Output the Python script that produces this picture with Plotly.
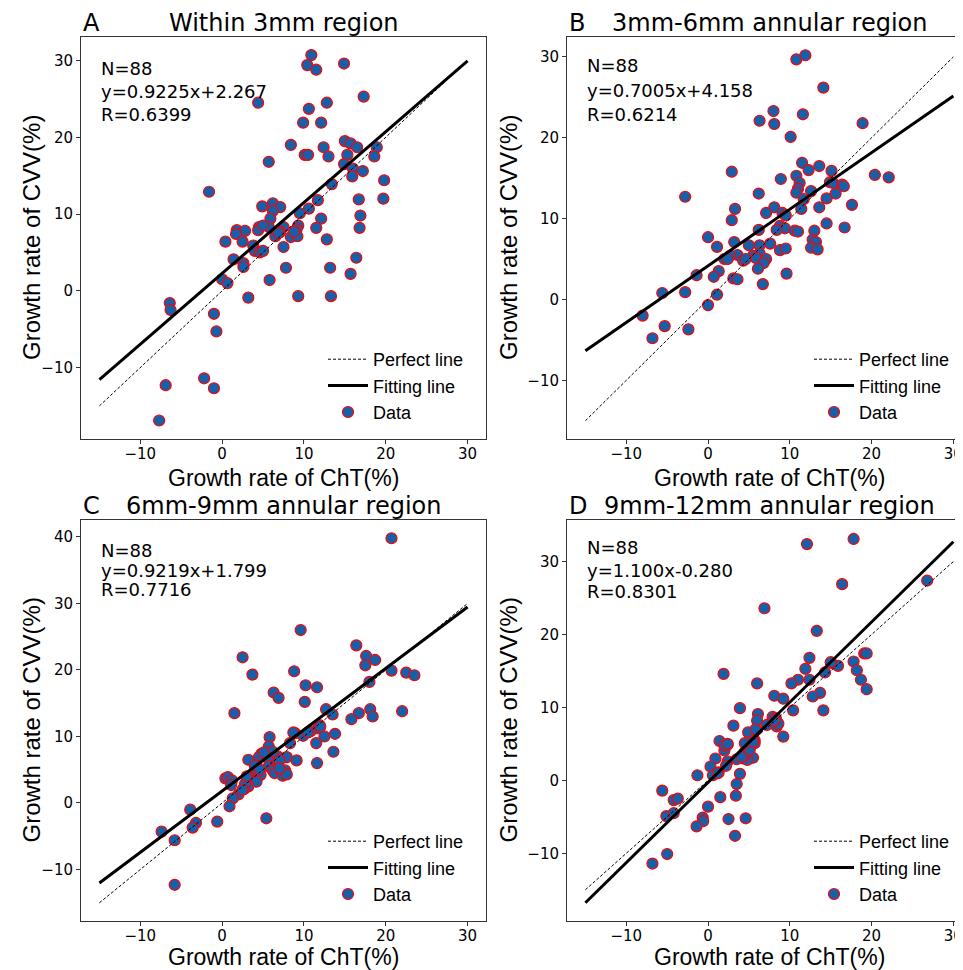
import plotly.graph_objects as go

# ---------------- data ----------------
panel_letters = ["A", "B", "C", "D"]
panel_titles = ["Within 3mm region", "3mm-6mm annular region",
                "6mm-9mm annular region", "9mm-12mm annular region"]
n_points = [88, 88, 88, 88]
slopes = [0.9225, 0.7005, 0.9219, 1.100]
intercepts = [2.267, 4.158, 1.799, -0.280]
r_values = ["0.6399", "0.6214", "0.7716", "0.8301"]
fit_labels = ["y=0.9225x+2.267", "y=0.7005x+4.158", "y=0.9219x+1.799", "y=1.100x-0.280"]
line_x = [-15, 30]

a_x = [10.9, 10.4, 11.5, 14.9, 17.3, 4.4, 10.6, 12.8, 9.9, 12.1,
       8.4, 12.4, 15.0, 15.7, 16.5, 18.9, 10.1, 10.5, 13.0, 15.3,
       18.6, 5.7, 14.9, 16.0, 17.2, 15.9, 19.8, 13.4, -1.6, 11.7,
       16.7, 19.7, 6.2, 7.1, 4.9, 10.6, 6.2, 9.5, 16.9, 5.9,
       12.1, 9.3, 4.5, 5.7, 7.5, 11.5, 16.8, 1.8, 2.8, 4.4,
       1.7, 7.1, 9.1, 6.5, 8.4, 9.2, 0.4, 2.5, 12.8, 3.8,
       7.5, 4.0, 4.6, 5.0, 1.4, 16.4, 2.6, 2.6, 7.8, 13.2,
       15.7, 5.8, 0.0, 0.65, 3.2, 9.3, 13.3, -6.4, -6.3, -1.0,
       -0.7, -2.2, -6.9, -1.0, -7.7, 5.0, 6.9, 8.8]
a_y = [30.7, 29.4, 28.8, 29.6, 25.3, 24.5, 23.7, 24.5, 21.9, 21.9,
       19.0, 18.7, 19.5, 19.2, 18.7, 18.7, 17.7, 17.7, 17.5, 17.7,
       17.5, 16.8, 16.5, 15.9, 15.6, 14.9, 14.4, 13.9, 12.9, 11.8,
       11.9, 12.0, 11.4, 10.9, 11.0, 10.7, 10.4, 10.1, 9.8, 9.4,
       9.4, 8.5, 8.3, 8.3, 8.3, 8.2, 8.2, 7.9, 7.8, 7.9,
       7.4, 7.7, 8.0, 7.1, 7.0, 7.1, 6.4, 6.4, 6.7, 5.9,
       5.7, 5.2, 5.0, 5.2, 4.1, 4.3, 3.6, 3.1, 3.0, 3.0,
       2.2, 1.4, 1.5, 1.0, -0.9, -0.7, -0.7, -1.6, -2.5, -3.0,
       -5.3, -11.4, -12.3, -12.7, -16.9, 8.5, 7.5, 7.7]

b_x = [10.8, 11.9, 14.1, 8.0, 11.6, 6.3, 8.1, 18.9, 10.1, 11.5,
       13.6, 12.3, 15.1, 2.9, 10.8, 20.4, 22.1, 8.9, 11.2, 14.9,
       15.3, 16.4, 16.6, 11.0, 12.6, 6.2, 10.8, 15.6, -2.8, 14.5,
       11.7, 17.6, 8.1, 13.6, 3.3, 11.4, 7.1, 9.1, 9.5, 2.9,
       14.5, 16.7, 8.8, 9.4, 6.2, 8.4, 10.6, 11.0, 13.0, 0.0,
       3.2, 7.6, 12.8, 13.2, 5.0, 6.3, 1.1, 8.8, 9.5, 12.6,
       13.4, 6.3, 3.6, 2.7, 5.5, 5.9, 2.0, 7.1, 4.3, 6.8,
       6.1, 1.3, 9.6, -1.4, 0.7, 3.1, 3.6, 6.7, -5.6, -2.8,
       1.1, 0.0, -8.0, -5.3, -2.4, -6.8, 2.4, 4.6]
b_y = [29.7, 30.2, 26.2, 23.3, 22.9, 22.1, 21.7, 21.8, 20.1, 16.9,
       16.5, 16.0, 15.9, 15.8, 15.3, 15.4, 15.1, 14.9, 14.4, 14.5,
       14.4, 14.2, 14.0, 13.7, 13.4, 13.1, 13.2, 13.1, 12.7, 12.5,
       12.4, 11.7, 11.4, 11.4, 11.2, 11.2, 10.7, 10.7, 10.4, 9.8,
       9.4, 8.9, 9.1, 8.8, 8.6, 8.6, 8.5, 8.4, 8.5, 7.7,
       7.1, 6.9, 7.4, 7.1, 6.7, 6.7, 6.5, 6.1, 6.3, 6.4,
       6.2, 5.7, 5.5, 5.4, 5.4, 5.1, 5.0, 5.0, 4.8, 4.5,
       3.8, 3.5, 3.2, 3.0, 2.8, 2.6, 2.5, 1.9, 0.8, 0.9,
       0.6, -0.7, -2.0, -3.3, -3.7, -4.8, 5.0, 5.0]

c_x = [20.7, 9.6, 16.4, 17.6, 18.7, 17.5, 2.5, 3.7, 8.8, 20.7,
       22.5, 23.5, 18.0, 10.2, 11.6, 6.3, 6.9, 10.1, 12.7, 18.1,
       16.7, 22.0, 13.5, 1.5, 18.4, 15.8, 11.9, 11.7, 8.9, 10.8,
       9.9, 5.8, 12.5, 13.8, 8.3, 11.5, 5.7, 13.6, 4.8, 4.5,
       6.8, 7.9, 3.2, 5.6, 9.1, 4.2, 6.6, 11.6, 5.7, 6.2,
       7.7, 4.3, 6.4, 4.7, 7.4, 7.9, 0.4, 0.7, 3.2, 1.2,
       4.2, 1.1, 3.2, 2.7, 2.0, 1.3, 0.9, -3.9, 5.4, -0.6,
       -3.2, -3.6, -7.4, -5.8, -5.8, 4.1, 4.0, 7.0, 2.8, 4.6,
       6.2, 2.5, 7.0, 10.5, 8.7, 12.0, 5.1, 3.0]
c_y = [39.8, 26.0, 23.7, 22.1, 21.5, 20.7, 21.9, 19.3, 19.8, 19.9,
       19.6, 19.2, 18.2, 17.7, 17.4, 16.6, 15.8, 15.2, 14.1, 14.1,
       13.5, 13.8, 13.3, 13.5, 13.0, 12.6, 11.7, 11.2, 10.5, 10.8,
       10.1, 9.9, 10.0, 10.4, 9.0, 9.0, 8.5, 7.7, 7.4, 6.9,
       7.0, 6.9, 6.5, 6.7, 6.4, 5.7, 5.9, 6.0, 5.5, 4.9,
       4.9, 4.5, 4.5, 4.2, 4.1, 4.3, 3.7, 3.9, 3.6, 3.4,
       3.2, 2.7, 2.5, 2.1, 1.3, 0.7, -0.5, -1.0, -2.3, -2.8,
       -3.0, -3.7, -4.3, -5.6, -12.3, 5.1, 5.6, 6.4, 2.9, 5.0,
       7.7, 2.0, 5.2, 10.6, 10.6, 11.5, 7.6, 4.0]

d_x = [17.8, 12.1, 16.4, 26.8, 6.9, 13.3, 19.1, 19.4, 12.4, 15.1,
       17.8, 15.9, 11.9, 18.2, 14.3, 1.9, 12.4, 11.0, 18.7, 6.0,
       10.2, 19.4, 13.7, 8.1, 9.2, 12.8, 3.9, 10.4, 14.1, 6.1,
       7.9, 8.3, 6.0, 8.1, 7.2, 8.4, 3.1, 5.9, 4.9, 9.2,
       5.7, 1.4, 2.4, 5.7, 2.0, 5.0, 4.5, 0.9, 5.5, 4.3,
       4.8, 3.5, 2.4, 2.2, 0.3, 1.3, 0.6, -1.3, 3.9, 3.5,
       -5.6, 3.4, 1.5, -4.2, -3.7, 0.0, -5.1, -4.2, -0.65, 4.6,
       2.5, -0.6, -1.4, 3.3, -5.0, -6.8, 4.4, 5.1, 5.8, 8.6,
       1.2, 2.0, 4.1, 4.5, 8.1, 15.0, 5.5, 2.4]
d_y = [33.1, 32.4, 26.9, 27.4, 23.6, 20.5, 17.4, 17.4, 16.8, 16.1,
       16.3, 15.7, 15.3, 15.1, 14.8, 14.6, 13.8, 13.8, 13.8, 13.3,
       13.3, 12.5, 12.0, 11.6, 11.2, 11.5, 9.9, 9.6, 9.6, 9.1,
       8.7, 8.5, 8.2, 7.9, 7.6, 7.4, 7.5, 6.9, 6.6, 6.0,
       5.5, 5.4, 4.9, 5.1, 4.1, 4.6, 3.9, 3.0, 3.1, 3.0,
       2.8, 2.9, 2.6, 2.0, 1.9, 1.1, 0.7, 0.7, 0.9, -0.5,
       -1.4, -2.1, -2.3, -2.7, -2.5, -3.6, -4.9, -4.5, -5.1, -5.2,
       -5.3, -5.6, -6.3, -7.6, -10.1, -11.4, 3.3, 4.2, 7.0, 7.8,
       1.0, 4.8, 3.2, 5.1, 8.2, 16.2, 5.3, 5.0]

xs = [a_x, b_x, c_x, d_x]
ys = [a_y, b_y, c_y, d_y]
x_ticks = [-10, 0, 10, 20, 30]
y_ticks = [[-10, 0, 10, 20, 30], [-10, 0, 10, 20, 30],
           [-10, 0, 10, 20, 30, 40], [-10, 0, 10, 20, 30]]
x_label = "Growth rate of ChT(%)"
y_label = "Growth rate of CVV(%)"

# ---------------- layout (pixels, page coordinates) ----------------
OFF = 8                      # default body margin of the html page
W, H = 963 - OFF, 970 - OFF  # figure size so that it fills the window
boxes = [  # left, right, top, bottom (page px)
    (81, 486, 37, 439), (567, 963, 37, 439),
    (81, 486, 520, 921), (567, 963, 520, 921)]
axis_center_px = [283.5, 769.5, 283.5, 769.5]
ylabel_x_px = [31, 508, 31, 508]
xlabel_gap_px = [39, 39, 35.5, 35.5]
x_ranges = [[-17.25, 32.25], [-17.25, 31.18], [-17.25, 32.25], [-17.25, 31.18]]
y_ranges = [[-19.31, 33.06], [-17.26, 32.46], [-17.74, 42.54], [-19.28, 35.7]]
stat_y = [[28.95, 25.9, 22.9], [28.9, 25.9, 22.9], [38.0, 35.0, 32.1], [31.9, 28.8, 25.9]]
mirror_y = [True, False, True, False]


def px(v):
    return (v - OFF) / W


def py(v):
    return 1 - (v - OFF) / H


BLUE = "#1660aa"
FRAME = "#333333"
TICKFONT = dict(family="DejaVu Sans", size=15, color="black")

fig = go.Figure()
annotations = []
layout = dict(width=W, height=H, margin=dict(l=0, r=0, t=0, b=0, autoexpand=False),
              paper_bgcolor="white", plot_bgcolor="white", showlegend=True)

for i in range(4):
    k = "" if i == 0 else str(i + 1)
    xa, ya, leg = "x" + k, "y" + k, "legend" + k
    l, r, t, b = boxes[i]
    fy = [slopes[i] * v + intercepts[i] for v in line_x]

    fig.add_trace(go.Scatter(
        x=xs[i], y=ys[i], mode="markers", name="Data", xaxis=xa, yaxis=ya,
        legend=leg, legendrank=3,
        marker=dict(size=11, color=BLUE, line=dict(color="red", width=1.2))))
    fig.add_trace(go.Scatter(
        x=line_x, y=line_x, mode="lines", name="Perfect line", xaxis=xa, yaxis=ya,
        legend=leg, legendrank=1,
        line=dict(color="black", width=1, dash="3px,2px")))
    fig.add_trace(go.Scatter(
        x=line_x, y=fy, mode="lines", name="Fitting line", xaxis=xa, yaxis=ya,
        legend=leg, legendrank=2,
        line=dict(color="black", width=3)))

    layout["xaxis" + k] = dict(
        domain=[px(l), min(px(r), 1.0)], anchor=ya, range=x_ranges[i], automargin=False,
        tickmode="array", tickvals=x_ticks, showgrid=False, zeroline=False,
        showline=True, mirror=True, linecolor=FRAME, linewidth=1,
        ticks="outside", ticklen=4, tickwidth=1, tickcolor=FRAME,
        ticklabelstandoff=-3, tickfont=TICKFONT)
    layout["yaxis" + k] = dict(
        domain=[py(b), py(t)], anchor=xa, range=y_ranges[i], automargin=False,
        tickmode="array", tickvals=y_ticks[i], showgrid=False, zeroline=False,
        showline=True, mirror=mirror_y[i], linecolor=FRAME, linewidth=1,
        ticks="outside", ticklen=4, tickwidth=1, tickcolor=FRAME,
        tickfont=TICKFONT)
    layout[leg] = dict(
        x=px(l + 242), y=py(b - 98), xanchor="left", yanchor="top",
        bgcolor="rgba(0,0,0,0)", borderwidth=0, itemwidth=40, tracegroupgap=0,
        font=dict(family="Liberation Sans", size=18, color="black"))

    # panel letter and title
    annotations.append(dict(text=panel_letters[i], xref="paper", yref="paper",
                            x=px(l), y=py(t - 14.5), xanchor="left", yanchor="middle",
                            showarrow=False, font=dict(family="DejaVu Sans", size=24, color="black")))
    annotations.append(dict(text=panel_titles[i], xref="paper", yref="paper",
                            x=px(axis_center_px[i]), y=py(t - 14.5), xanchor="center",
                            yanchor="middle", showarrow=False,
                            font=dict(family="DejaVu Sans", size=24, color="black")))
    # axis labels
    annotations.append(dict(text=x_label, xref="paper", yref="paper",
                            x=px(axis_center_px[i]), y=py(b + xlabel_gap_px[i]), xanchor="center",
                            yanchor="middle", showarrow=False,
                            font=dict(family="Liberation Sans", size=23, color="black")))
    annotations.append(dict(text=y_label, xref="paper", yref="paper",
                            x=px(ylabel_x_px[i]), y=py((t + b) / 2), xanchor="center",
                            yanchor="middle", textangle=-90, showarrow=False,
                            font=dict(family="Liberation Sans", size=24, color="black")))
    # statistics text
    stats = ["N=%d" % n_points[i], fit_labels[i], "R=" + r_values[i]]
    for s, yy in zip(stats, stat_y[i]):
        annotations.append(dict(text=s, xref=xa, yref=ya, x=-15.1, y=yy,
                                xanchor="left", yanchor="middle", showarrow=False,
                                font=dict(family="DejaVu Sans", size=18, color="black")))

layout["annotations"] = annotations
fig.update_layout(**layout)
fig.write_html("out.html")
